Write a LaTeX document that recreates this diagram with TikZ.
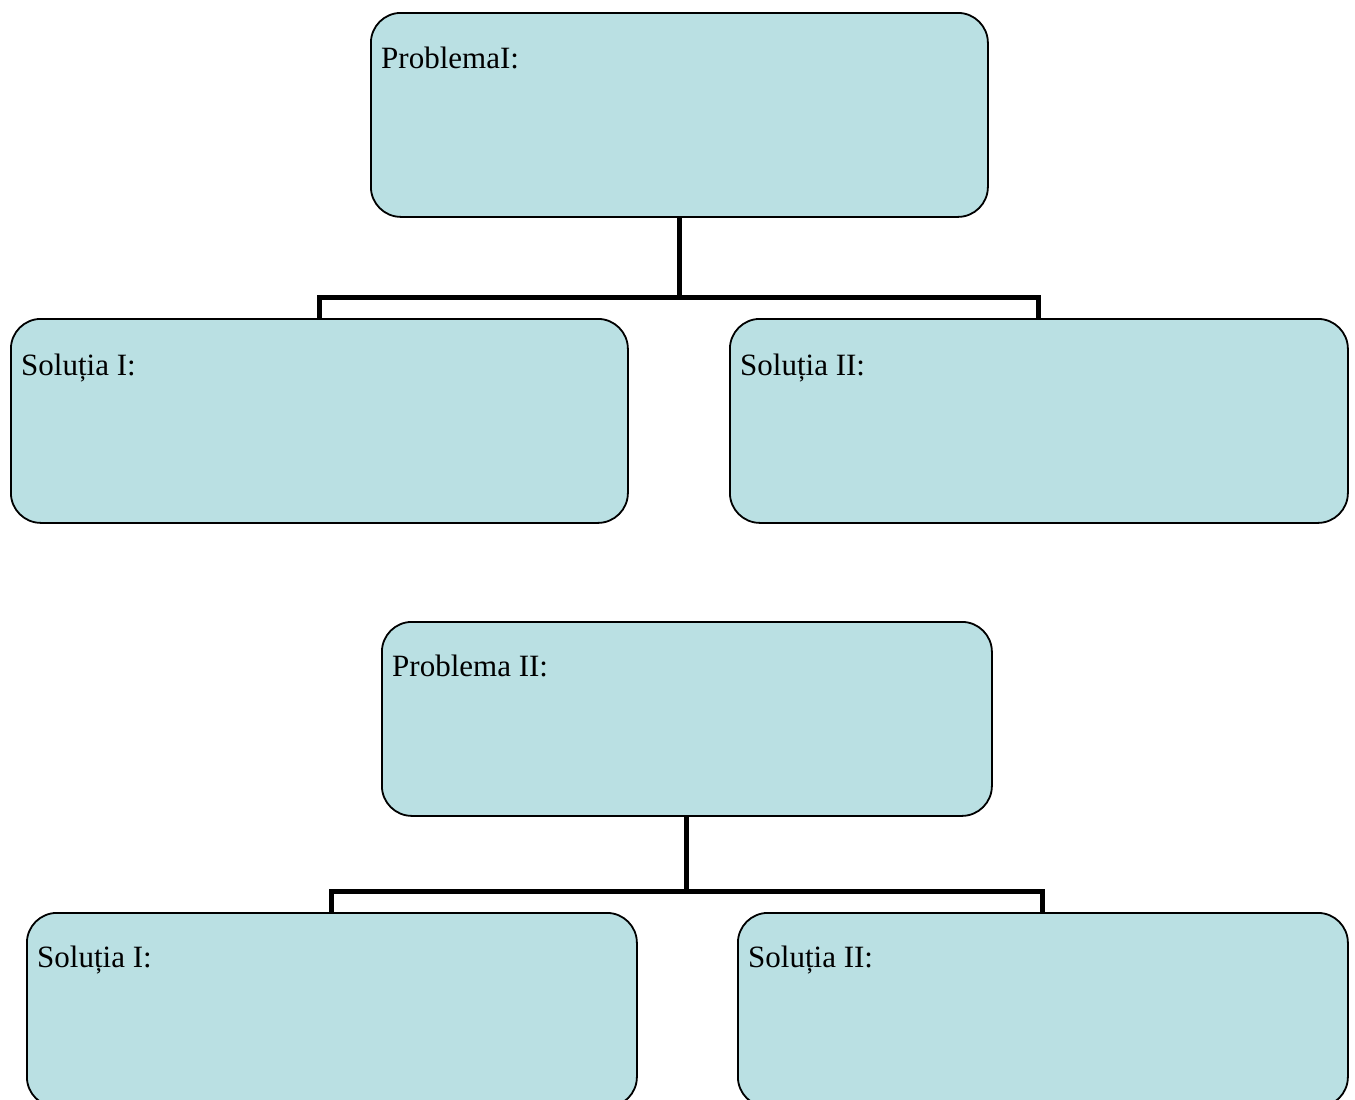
\documentclass[tikz,border=0pt]{standalone}
\usepackage{fontspec}
\setmainfont{Liberation Serif}
\definecolor{boxfill}{HTML}{BAE0E3}
\tikzset{
  box/.style={draw=black, line width=1.8pt, fill=boxfill, rounded corners=30pt,
    anchor=north west, inner sep=0pt, minimum width=#1},
  lbl/.style={anchor=base west, inner sep=0pt, font=\fontsize{31}{36}\selectfont},
  conn/.style={draw=black, line width=5pt}
}
\begin{document}
\begin{tikzpicture}[x=1pt,y=-1pt]
\useasboundingbox (0,0) rectangle (1355,1100);
\begin{scope}
\clip (0,0) rectangle (1355,1100);
% top group
\node[box=617pt, minimum height=204pt] (p1) at (370,12) {};
\node[box=617pt, minimum height=204pt] (s1) at (10,318) {};
\node[box=618pt, minimum height=204pt] (s2) at (729,318) {};
\draw[conn] (p1.south) -- ++(0,80) coordinate (j1);
\draw[conn] (s1.north) |- (j1) -| (s2.north);
% bottom group
\node[box=610pt, minimum height=194pt] (p2) at (381,621) {};
\node[box=610pt, minimum height=194pt] (s3) at (26,912) {};
\node[box=610pt, minimum height=194pt] (s4) at (737,912) {};
\draw[conn] (p2.south) -- ++(0,75) coordinate (j2);
\draw[conn] (s3.north) |- (j2) -| (s4.north);
% labels
\node[lbl] (t1) at ([shift={(11pt,-56pt)}]p1.north west) {ProblemaI:};
\node[lbl] (t2) at ([shift={(11pt,-57pt)}]s1.north west) {Soluția I:};
\node[lbl] (t3) at ([shift={(11pt,-57pt)}]s2.north west) {Soluția II:};
\node[lbl] (t4) at ([shift={(11pt,-55pt)}]p2.north west) {Problema II:};
\node[lbl] (t5) at ([shift={(11pt,-55pt)}]s3.north west) {Soluția I:};
\node[lbl] (t6) at ([shift={(11pt,-55pt)}]s4.north west) {Soluția II:};
\end{scope}
\end{tikzpicture}
\end{document}
